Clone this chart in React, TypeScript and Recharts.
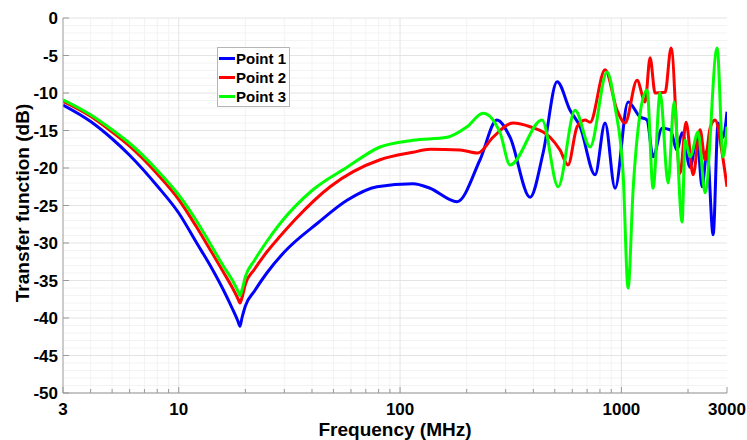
import React from 'react';
import { LineChart, Line, XAxis, YAxis, CartesianGrid, Legend, Label } from 'recharts';

const FONT = '"Liberation Sans", Arial, Helvetica, sans-serif';

// Point 1 (blue)
const p1Freq = [3, 4, 5, 6, 8, 10, 12, 14, 16, 17.5, 18.5, 18.9, 19.3, 20, 22, 25, 30, 42.6, 57.6, 78.7, 114.5, 136.6, 180.9, 229.8, 274, 314, 386.8, 442.8, 512.3, 586.3, 650.8, 760.6, 843.9, 936.5, 1072, 1215, 1306, 1390, 1527, 1660, 1785, 1880, 2044, 2198, 2315, 2440, 2597, 2735, 2881, 3000];
const p1Db = [-11.6, -13.8, -16.1, -18.3, -22.4, -26.0, -29.9, -33.2, -36.4, -38.8, -40.4, -41.1, -40.0, -38.4, -36.4, -34.0, -31.2, -27.3, -24.3, -22.5, -22.1, -22.7, -24.5, -18.9, -13.6, -15.9, -23.9, -18.0, -8.5, -12.3, -14.5, -20.9, -14.0, -22.7, -11.2, -13.2, -13.6, -18.5, -14.7, -14.9, -17.6, -15.3, -19.9, -15.9, -22.5, -17.6, -28.9, -14.0, -15.9, -12.5];

// Point 2 (red)
const p2Freq = [3, 4, 5, 6, 8, 10, 12, 14, 16, 17.5, 18.5, 18.9, 19.3, 20, 22, 25, 28.7, 33.5, 48.3, 81.2, 114.5, 136.6, 186.6, 225, 263, 324, 386.8, 476, 528, 574, 630.6, 685.5, 722, 843.9, 956, 1039, 1177, 1280, 1348, 1420, 1576, 1677, 1841, 1960, 2109, 2267, 2389, 2516, 2651, 2851, 3000];
const p2Db = [-11.1, -13.1, -15.2, -17.1, -20.8, -24.2, -27.8, -31.1, -34.0, -36.0, -37.4, -38.0, -37.3, -35.5, -33.5, -31.2, -29.1, -26.9, -22.5, -18.9, -17.9, -17.5, -17.6, -18.0, -15.9, -14.0, -14.5, -15.9, -17.6, -19.6, -14.5, -13.6, -13.9, -6.9, -12.3, -14.0, -8.3, -11.2, -5.3, -10.0, -9.9, -4.0, -20.7, -13.9, -20.9, -14.9, -18.9, -14.7, -13.6, -18.0, -22.5];

// Point 3 (green)
const p3Freq = [3, 4, 5, 6, 8, 10, 12, 14, 16, 17.5, 18.5, 18.9, 19.3, 20, 22, 25, 28.7, 40.4, 57.6, 81.2, 114.5, 163, 200.8, 237, 283, 314, 438, 518, 617.6, 722, 861.6, 936.5, 1017.7, 1072, 1129.5, 1215, 1306, 1390, 1496, 1626, 1730, 1880, 1940, 2044, 2221, 2389, 2707, 2881, 3000];
const p3Db = [-10.9, -12.9, -14.9, -16.7, -20.3, -23.6, -27.0, -30.3, -33.2, -35.0, -36.4, -37.0, -36.3, -34.5, -32.3, -29.8, -27.4, -22.9, -19.9, -17.2, -16.3, -15.9, -14.5, -12.7, -15.3, -19.6, -13.6, -22.5, -12.3, -17.2, -7.2, -11.9, -20.7, -36.0, -22.9, -12.7, -9.6, -22.7, -10.0, -22.0, -11.2, -27.2, -16.3, -18.5, -15.2, -23.3, -4.0, -18.5, -14.5];

const seriesNames = ['Point 1', 'Point 2', 'Point 3'];
const seriesColors = ['#0000ff', '#ff0000', '#00ff00'];

const xMajorTicks = [3, 10, 100, 1000, 3000];
const xMinorTicks = [4, 5, 6, 7, 8, 9, 20, 30, 40, 50, 60, 70, 80, 90, 200, 300, 400, 500, 600, 700, 800, 900, 2000];
const xDecadeGrid = [10, 100, 1000];
const yTicks = [0, -5, -10, -15, -20, -25, -30, -35, -40, -45, -50];
const yMinorGrid = [-1, -2, -3, -4, -6, -7, -8, -9, -11, -12, -13, -14, -16, -17, -18, -19, -21, -22, -23, -24, -26, -27, -28, -29, -31, -32, -33, -34, -36, -37, -38, -39, -41, -42, -43, -44, -46, -47, -48, -49];

const xAllTicks = [...xMajorTicks, ...xMinorTicks].sort((a, b) => a - b);

const toRows = (fs: number[], vs: number[]) => fs.map((f, i) => ({ f, v: vs[i] }));
const seriesData = [toRows(p1Freq, p1Db), toRows(p2Freq, p2Db), toRows(p3Freq, p3Db)];

const AXIS = '#999999';
const AXIS_LIGHT = '#c4c4c4';

const BottomTick = (props: any) => {
  const { x, y, payload } = props;
  const major = xMajorTicks.includes(payload.value);
  return (
    <g>
      <line x1={x} x2={x} y1={y} y2={y - (major ? 6 : 4)} stroke={AXIS} strokeWidth={1} />
      {major && (
        <text x={x} y={y + 22} textAnchor="middle" fontFamily={FONT} fontWeight="bold" fontSize={17} fill="#000">
          {payload.value}
        </text>
      )}
    </g>
  );
};

const TopTick = (props: any) => {
  const { x, y, payload } = props;
  const major = xMajorTicks.includes(payload.value);
  return <line x1={x} x2={x} y1={y} y2={y + (major ? 6 : 4)} stroke={AXIS} strokeWidth={1} />;
};

const LeftTick = (props: any) => {
  const { x, y, payload } = props;
  return (
    <g>
      <line x1={x} x2={x + 6} y1={y} y2={y} stroke={AXIS} strokeWidth={1} />
      <text x={x - 5} y={y + 6} textAnchor="end" fontFamily={FONT} fontWeight="bold" fontSize={17} fill="#000">
        {payload.value}
      </text>
    </g>
  );
};

const RightTick = (props: any) => {
  const { x, y } = props;
  return <line x1={x} x2={x - 6} y1={y} y2={y} stroke={AXIS} strokeWidth={1} />;
};

const LegendBox = () => (
  <div
    style={{
      border: '1px solid #b5b5b5',
      background: '#fff',
      padding: '1px 3px 0 1px',
      fontFamily: FONT,
      fontWeight: 'bold',
      fontSize: 15,
      color: '#000',
      lineHeight: '19px',
    }}
  >
    {seriesNames.map((n, i) => (
      <div key={n} style={{ display: 'flex', alignItems: 'center', height: 19, whiteSpace: 'nowrap' }}>
        <span style={{ display: 'inline-block', width: 16, height: 3, background: seriesColors[i], marginRight: 1 }} />
        <span>{n}</span>
      </div>
    ))}
  </div>
);

export default function App() {
  return (
    <div style={{ position: 'absolute', left: 0, top: 0, background: '#fff' }}>
      <LineChart width={747} height={440} margin={{ top: 18, right: 20, bottom: 0, left: 13 }}>
        <CartesianGrid
          stroke="#f3f3f3"
          horizontalValues={yMinorGrid}
          verticalValues={xMinorTicks}
        />
        <CartesianGrid
          stroke="#e4e4e4"
          horizontalValues={yTicks}
          verticalValues={xDecadeGrid}
        />
        <XAxis
          dataKey="f"
          type="number"
          scale="log"
          domain={[3, 3000]}
          allowDataOverflow
          ticks={xAllTicks}
          interval={0}
          height={47}
          tickSize={0}
          tickMargin={0}
          tickLine={false}
          axisLine={{ stroke: AXIS }}
          tick={<BottomTick />}
        >
          <Label
            content={() => (
              <text x={395} y={436} textAnchor="middle" fontFamily={FONT} fontWeight="bold" fontSize={19} fill="#000">
                Frequency (MHz)
              </text>
            )}
          />
        </XAxis>
        <XAxis
          xAxisId="top"
          orientation="top"
          dataKey="f"
          type="number"
          scale="log"
          domain={[3, 3000]}
          allowDataOverflow
          ticks={xAllTicks}
          interval={0}
          height={0}
          tickSize={0}
          tickMargin={0}
          tickLine={false}
          axisLine={{ stroke: AXIS_LIGHT }}
          tick={<TopTick />}
        />
        <YAxis
          type="number"
          domain={[-50, 0]}
          ticks={yTicks}
          interval={0}
          width={50}
          tickSize={0}
          tickMargin={0}
          tickLine={false}
          axisLine={{ stroke: AXIS }}
          tick={<LeftTick />}
        >
          <Label
            content={() => (
              <text
                x={29}
                y={203}
                transform="rotate(-90 29 203)"
                textAnchor="middle"
                fontFamily={FONT}
                fontWeight="bold"
                fontSize={19}
                fill="#000"
              >
                Transfer function (dB)
              </text>
            )}
          />
        </YAxis>
        <YAxis
          yAxisId="right"
          orientation="right"
          type="number"
          domain={[-50, 0]}
          ticks={yTicks}
          interval={0}
          width={0}
          tickSize={0}
          tickMargin={0}
          tickLine={false}
          axisLine={{ stroke: AXIS }}
          tick={<RightTick />}
        />
        {seriesData.map((d, i) => (
          <Line
            key={seriesNames[i]}
            data={d}
            dataKey="v"
            name={seriesNames[i]}
            type="monotone"
            stroke={seriesColors[i]}
            strokeWidth={3}
            dot={false}
            activeDot={false}
            isAnimationActive={false}
          />
        ))}
        <Legend
          layout="vertical"
          align="center"
          verticalAlign="middle"
          wrapperStyle={{ left: 217, top: 47, width: 'auto', height: 'auto' }}
          content={() => <LegendBox />}
        />
      </LineChart>
    </div>
  );
}
